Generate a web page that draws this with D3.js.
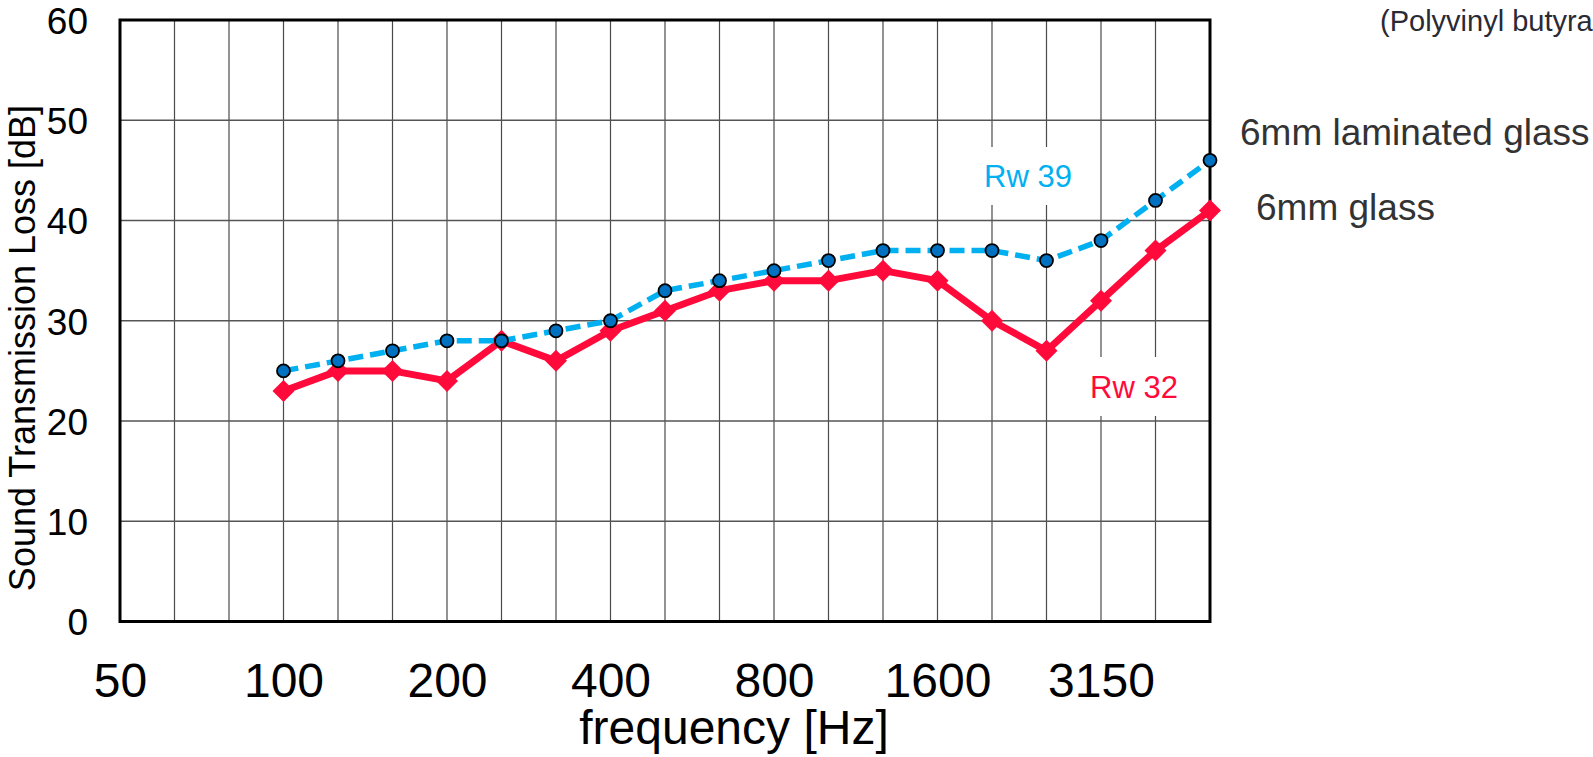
<!DOCTYPE html>
<html>
<head>
<meta charset="utf-8">
<script src="https://cdn.jsdelivr.net/npm/d3@7"></script>
<style>
  body { margin: 0; background: #fff; }
  svg { display: block; font-family: Arial, "Liberation Sans", sans-serif; }
</style>
</head>
<body>
<script>
var freqs = ["50", "63", "80", "100", "125", "160", "200", "250", "315", "400", "500",
	"630", "800", "1000", "1250", "1600", "2000", "2500", "3150", "4000", "5000"];
var tickLabels = ["50", "100", "200", "400", "800", "1600", "3150"];
var yTicks = [0, 10, 20, 30, 40, 50, 60];

var measured = ["100", "125", "160", "200", "250", "315", "400", "500", "630", "800",
	"1000", "1250", "1600", "2000", "2500", "3150", "4000", "5000"];
var laminated = [25, 26, 27, 28, 28, 29, 30, 33, 34, 35, 36, 37, 37, 37, 36, 38, 42, 46];
var glass = [23, 25, 25, 24, 28, 26, 29, 31, 33, 34, 34, 35, 34, 30, 27, 32, 37, 41];

var W = 1593, H = 757;
var plotL = 120, plotR = 1210, plotT = 20, plotB = 621.5;

var svg = d3.select("body").append("svg")
	.attr("width", W)
	.attr("height", H);

var x = d3.scalePoint().domain(freqs).range([plotL, plotR]);
var y = d3.scaleLinear().domain([0, 60]).range([plotB, plotT]);

// grid
svg.append("g").selectAll("line")
	.data(freqs)
	.enter().append("line")
	.attr("x1", function(d) { return x(d); })
	.attr("x2", function(d) { return x(d); })
	.attr("y1", plotT).attr("y2", plotB)
	.style("stroke", "#4a4a4a").style("stroke-width", 1.2);

svg.append("g").selectAll("line")
	.data(yTicks)
	.enter().append("line")
	.attr("x1", plotL).attr("x2", plotR)
	.attr("y1", function(d) { return y(d); })
	.attr("y2", function(d) { return y(d); })
	.style("stroke", "#555").style("stroke-width", 1.6);

// white boxes behind the Rw labels
var notes = [
	{ text: "Rw 39", cx: 1028, base: 187, color: "#00b0f0", box: [950, 147, 140, 58] },
	{ text: "Rw 32", cx: 1134, base: 398, color: "#ff0a3a", box: [1064, 357, 128, 59] }
];
svg.append("g").selectAll("rect")
	.data(notes)
	.enter().append("rect")
	.attr("x", function(d) { return d.box[0]; })
	.attr("y", function(d) { return d.box[1]; })
	.attr("width", function(d) { return d.box[2]; })
	.attr("height", function(d) { return d.box[3]; })
	.style("fill", "#fff");

svg.append("g").selectAll("text")
	.data(notes)
	.enter().append("text")
	.attr("x", function(d) { return d.cx; })
	.attr("y", function(d) { return d.base; })
	.attr("text-anchor", "middle")
	.style("font-size", "31px")
	.style("fill", function(d) { return d.color; })
	.text(function(d) { return d.text; });

// frame
svg.append("rect")
	.attr("x", plotL).attr("y", plotT)
	.attr("width", plotR - plotL).attr("height", plotB - plotT)
	.style("fill", "none").style("stroke", "#000").style("stroke-width", 3);

// axes
var xAxis = d3.axisBottom(x).tickValues(tickLabels).tickSize(0).tickPadding(0);
var gx = svg.append("g").attr("transform", "translate(0," + plotB + ")").call(xAxis);
gx.select(".domain").remove();
gx.selectAll("text")
	.attr("y", 75).attr("dy", 0)
	.style("font-size", "48px")
	.style("font-family", "Arial, 'Liberation Sans', sans-serif")
	.style("fill", "#000");

var yAxis = d3.axisLeft(y).tickValues(yTicks).tickSize(0).tickPadding(32);
var gy = svg.append("g").attr("transform", "translate(" + plotL + ",0)").call(yAxis);
gy.select(".domain").remove();
gy.selectAll("text")
	.attr("dy", "0.36em")
	.style("font-size", "37px")
	.style("font-family", "Arial, 'Liberation Sans', sans-serif")
	.style("fill", "#000");

// axis titles
svg.append("text")
	.attr("x", 734).attr("y", 744)
	.attr("text-anchor", "middle")
	.style("font-size", "48px")
	.text("frequency [Hz]");

svg.append("text")
	.attr("transform", "translate(35,348) rotate(-90)")
	.attr("text-anchor", "middle")
	.style("font-size", "36px")
	.text("Sound Transmission Loss [dB]");

// lines
var line = d3.line()
	.x(function(d) { return x(d[0]); })
	.y(function(d) { return y(d[1]); });

var glassPts = measured.map(function(f, i) { return [f, glass[i]]; });
var lamPts = measured.map(function(f, i) { return [f, laminated[i]]; });

svg.append("path")
	.datum(glassPts)
	.attr("d", line)
	.style("fill", "none")
	.style("stroke", "#ff0a3a")
	.style("stroke-width", 7)
	.style("stroke-linejoin", "round");

svg.append("g").selectAll("path")
	.data(glassPts)
	.enter().append("path")
	.attr("transform", function(d) { return "translate(" + x(d[0]) + "," + y(d[1]) + ")"; })
	.attr("d", "M0,-11L11,0L0,11L-11,0Z")
	.style("fill", "#ff0a3a");

svg.append("path")
	.datum(lamPts)
	.attr("d", line)
	.style("fill", "none")
	.style("stroke", "#00b0f0")
	.style("stroke-width", 5.5)
	.style("stroke-dasharray", "15,7");

svg.append("g").selectAll("circle")
	.data(lamPts)
	.enter().append("circle")
	.attr("cx", function(d) { return x(d[0]); })
	.attr("cy", function(d) { return y(d[1]); })
	.attr("r", 6.5)
	.style("fill", "#0070c0")
	.style("stroke", "#000")
	.style("stroke-width", 1.8);

// series names on the right
svg.append("text")
	.attr("x", 1240).attr("y", 145)
	.style("font-size", "37px")
	.style("fill", "#333")
	.text("6mm laminated glass");

svg.append("text")
	.attr("x", 1256).attr("y", 220)
	.style("font-size", "37px")
	.style("fill", "#333")
	.text("6mm glass");

svg.append("text")
	.attr("x", 1380).attr("y", 31)
	.style("font-size", "29px")
	.style("fill", "#2a2a35")
	.text("(Polyvinyl butyral)");
</script>
</body>
</html>
